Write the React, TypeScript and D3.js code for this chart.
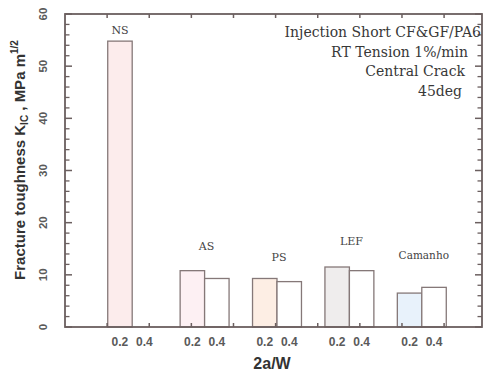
import React from 'react';
import * as d3 from 'd3';

const groups = ['NS', 'AS', 'PS', 'LEF', 'Camanho'];
const ratios = ['0.2', '0.4'];
const values02: (number | null)[] = [54.8, 10.8, 9.3, 11.5, 6.5];
const values04: (number | null)[] = [null, 9.3, 8.7, 10.8, 7.6];
const labelLevels = [56.8, 15.4, 13.3, 16.2, 13.6];
const fills02 = ['#fcecec', '#fdf0f3', '#fdeee4', '#efeded', '#e8f2fb'];
const yTicks = [0, 10, 20, 30, 40, 50, 60];
const notes = ['Injection Short CF&GF/PA6', 'RT Tension 1%/min', 'Central Crack', '45deg'];

const W = 484, H = 379;
const L = 65, R = 482, T = 14, B = 327;

export default function App() {
  const y = d3.scaleLinear().domain([0, 60]).range([B, T]);
  const xLin = d3.scaleLinear().domain([0, 9.9]).range([L, R]);
  const xg = d3.scaleBand<string>().domain(groups).range([96, 458]).paddingInner(0.324).paddingOuter(0.162);
  const xs = d3.scaleBand<string>().domain(ratios).range([0, xg.bandwidth()]);
  const minor = d3.range(0, 60.01, 2).filter((v) => v % 10 !== 0);
  const xt = d3.range(1, 10);
  const axisColor = '#6b5f5f';

  return (
    <svg width={W} height={H} style={{ position: 'absolute', left: 0, top: 0, background: '#fff' }}>
      {/* bars */}
      {groups.map((g, i) => {
        const x0 = xg(g)!;
        const vals = [values02[i], values04[i]];
        return (
          <g key={g}>
            {vals.map((v, j) =>
              v == null ? null : (
                <rect
                  key={j}
                  x={x0 + xs(ratios[j])!}
                  y={y(v)}
                  width={xs.bandwidth()}
                  height={y(0) - y(v)}
                  fill={j === 0 ? fills02[i] : '#ffffff'}
                  stroke="#857878"
                  strokeWidth={1.3}
                />
              )
            )}
            <text
              x={i === 0 ? x0 + xs('0.2')! + xs.bandwidth() / 2 : x0 + xg.bandwidth() / 2 + 2}
              y={y(labelLevels[i])}
              textAnchor="middle"
              dominantBaseline="middle"
              fontFamily="DejaVu Serif, serif"
              fontSize={i === 4 ? 10.5 : 11}
              fill="#444"
            >
              {g}
            </text>
            {ratios.map((r) => (
              <text
                key={r}
                x={x0 + xs(r)! + xs.bandwidth() / 2}
                y={346}
                textAnchor="middle"
                fontFamily="Liberation Sans, Arial, sans-serif"
                fontWeight="bold"
                fontSize={12}
                fill="#5a5a5a"
              >
                {r}
              </text>
            ))}
          </g>
        );
      })}

      {/* frame */}
      <rect x={L} y={T} width={R - L} height={B - T} fill="none" stroke={axisColor} strokeWidth={1.8} />

      {/* left & right ticks */}
      {yTicks.map((t) => (
        <g key={t}>
          <line x1={L} x2={L + 7} y1={y(t)} y2={y(t)} stroke={axisColor} strokeWidth={1.5} />
          <line x1={R} x2={R - 7} y1={y(t)} y2={y(t)} stroke={axisColor} strokeWidth={1.5} />
          <text
            transform={`translate(44,${y(t)}) rotate(-90)`}
            textAnchor="middle"
            dominantBaseline="middle"
            fontFamily="Liberation Sans, Arial, sans-serif"
            fontWeight="bold"
            fontSize={11.5}
            fill="#5a5a5a"
          >
            {t}
          </text>
        </g>
      ))}
      {minor.map((t) => (
        <g key={'m' + t}>
          <line x1={L} x2={L + 4.5} y1={y(t)} y2={y(t)} stroke={axisColor} strokeWidth={1.3} />
          <line x1={R} x2={R - 4.5} y1={y(t)} y2={y(t)} stroke={axisColor} strokeWidth={1.3} />
        </g>
      ))}
      {/* top & bottom ticks */}
      {xt.map((t) => (
        <g key={'x' + t}>
          <line x1={xLin(t)} x2={xLin(t)} y1={T} y2={T + 4} stroke={axisColor} strokeWidth={1.5} />
          <line x1={xLin(t)} x2={xLin(t)} y1={B} y2={B - 4} stroke={axisColor} strokeWidth={1.5} />
        </g>
      ))}

      {/* annotations */}
      {notes.map((n, i) => (
        <text
          key={n}
          x={i === 0 ? 481 : 468 - (i - 1) * 3}
          y={33 + i * 19.7}
          textAnchor="end"
          dominantBaseline="middle"
          fontFamily="DejaVu Serif, serif"
          fontSize={14}
          fill="#383838"
        >
          {n}
        </text>
      ))}

      {/* y axis title */}
      <text
        transform={`translate(21,${160}) rotate(-90)`}
        textAnchor="middle"
        dominantBaseline="middle"
        fontFamily="Liberation Sans, Arial, sans-serif"
        fontWeight="bold"
        fontSize={15}
        fill="#333"
      >
        Fracture toughness K
        <tspan fontSize={10} dy={3.5}>IC</tspan>
        <tspan dy={-3.5}> , MPa m</tspan>
        <tspan fontSize={10} dy={-6}>1/2</tspan>
      </text>

      {/* x axis title */}
      <text
        x={272}
        y={369}
        textAnchor="middle"
        fontFamily="Liberation Sans, Arial, sans-serif"
        fontWeight="bold"
        fontSize={16}
        fill="#333"
      >
        2a/W
      </text>
    </svg>
  );
}
